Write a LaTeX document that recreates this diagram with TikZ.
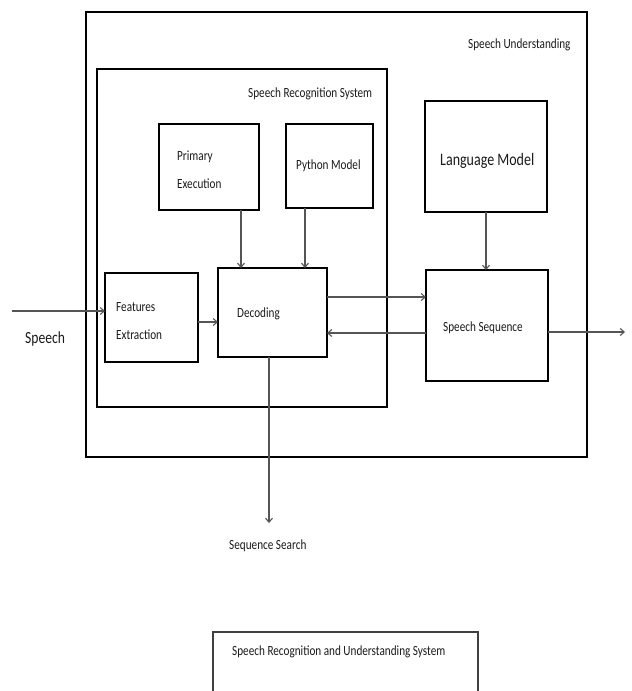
\documentclass[tikz,border=0pt]{standalone}
\usepackage{fontspec}
\setmainfont[FakeStretch=0.8]{Carlito}
\usetikzlibrary{arrows.meta}
\definecolor{linegray}{HTML}{555555}
\definecolor{inkcol}{HTML}{1A1A1A}
\tikzset{
  frame/.style={draw=black, line width=2pt, inner sep=0pt, outer sep=0pt},
  block/.style={draw=black, line width=2.6pt, inner sep=0pt, outer sep=0pt},
  lbl/.style={anchor=base west, inner sep=0pt, text=inkcol, font=\fontsize{14}{16}\selectfont},
  arr/.style={draw=linegray, line width=1.1pt, -{Straight Barb[length=4pt,width=7pt]}},
  plain/.style={draw=linegray, line width=1.1pt}
}
\begin{document}
\begin{tikzpicture}[x=1pt,y=-1pt]
\useasboundingbox (0,0) rectangle (632,691);

% frames
\node[frame, minimum width=501pt, minimum height=445pt] (und) at (336.5,234.5) {};
\node[frame, minimum width=290pt, minimum height=338pt] (rec) at (242,238) {};
\node[lbl] (undlbl) at (468,48.5) {Speech Understanding};
\node[lbl] (reclbl) at (248,97) {Speech Recognition System};

% blocks
\node[block, minimum width=100pt, minimum height=86pt] (pe) at (209,167) {};
\node[block, minimum width=87pt, minimum height=84pt] (pm) at (329.5,166) {};
\node[block, minimum width=122pt, minimum height=111pt] (lm) at (486,156.5) {};
\node[block, minimum width=93pt, minimum height=89pt] (fe) at (151.5,317.5) {};
\node[block, minimum width=109pt, minimum height=89pt] (dec) at (272.5,312.5) {};
\node[block, minimum width=122pt, minimum height=111pt] (ss) at (487,325.5) {};

% block texts
\node[lbl] (pe1) at (177,160) {Primary};
\node[lbl] (pe2) at (177,188) {Execution};
\node[lbl] (pmt) at (296,169) {Python Model};
\node[lbl, font=\fontsize{17.5}{20}\selectfont] (lmt) at (440,165) {Language Model};
\node[lbl] (fe1) at (116,311) {Features};
\node[lbl] (fe2) at (116,339) {Extraction};
\node[lbl] (dect) at (237,317) {Decoding};
\node[lbl] (sst) at (443,331) {Speech Sequence};

% outside texts
\node[lbl, font=\fontsize{17}{20}\selectfont] (sp) at (25,343) {Speech};
\node[lbl] (seq) at (229,549) {Sequence Search};

% connectors
\coordinate (spin) at (12,311);
\coordinate (spout) at (625,332);
\coordinate (search) at (269,523);
\draw[arr] (spin) -- (spin -| fe.west);
\draw[arr] (fe.east |- 0,322) -- (dec.west |- 0,322);
\draw[arr] (241,0 |- pe.south) -- (241,0 |- dec.north);
\draw[arr] (305,0 |- pm.south) -- (305,0 |- dec.north);
\draw[arr] (lm.south) -- (lm.south |- ss.north);
\draw[arr] (dec.east |- 0,297) -- (ss.west |- 0,297);
\draw[arr] (ss.west |- 0,333) -- (dec.east |- 0,333);
\draw[arr] (ss.east |- spout) -- (spout);
\draw[arr] (search |- dec.south) -- (search);

% caption box, open at the lower edge
\coordinate (capbl) at (213,691);
\coordinate (captl) at (213,632);
\coordinate (captr) at (478,632);
\coordinate (capbr) at (478,691);
\draw[draw=black!75, line width=1.2pt] (capbl) -- (captl) -- (captr) -- (capbr);
\node[lbl] (cap) at (232,655) {Speech Recognition and Understanding System};
\end{tikzpicture}
\end{document}
